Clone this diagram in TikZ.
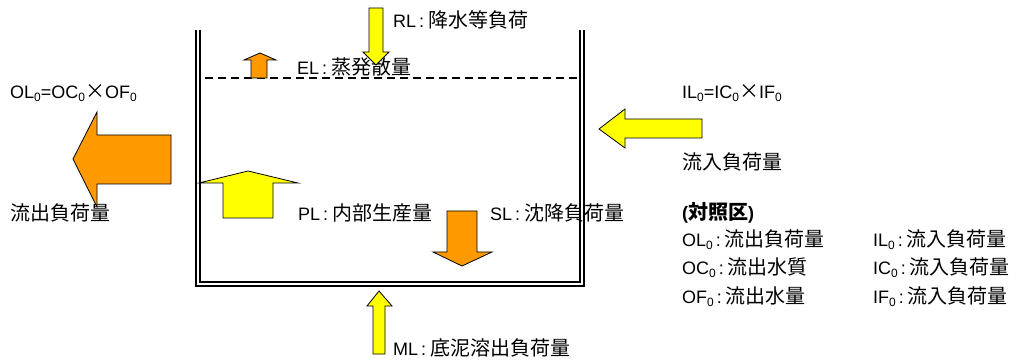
\documentclass[tikz,border=0pt]{standalone}
\usepackage{fontspec}
\setmainfont{Liberation Sans}
\newfontfamily\jp{Noto Sans CJK JP}[Scale=1.11]
\newcommand\zs[1]{\raisebox{-0.35ex}{\fontsize{12}{12}\selectfont #1}}
\newcommand\cln{\hspace{3pt}:\hspace{4pt}}
\definecolor{yfill}{HTML}{FFFF00}
\definecolor{ofill}{HTML}{FF9900}
\begin{document}
\begin{tikzpicture}[x=1pt,y=-1pt,
  lab/.style={anchor=west, inner sep=0pt, font=\fontsize{18}{20}\selectfont},
  wall/.style={line width=1.6pt},
  yarrow/.style={draw=black, line width=0.8pt, fill=yfill, line join=miter},
  oarrow/.style={draw=black, line width=0.8pt, fill=ofill, line join=miter}]
\useasboundingbox (0,0) rectangle (1019,363);
% labels
\node[lab] (rl) at (393,20) {RL\cln{\jp 降水等負荷}};
\node[lab] (el) at (297,67) {EL\cln{\jp 蒸発散量}};
\node[lab] (olf) at (10,93) {OL\zs{0}=OC\zs{0}{\jp ×}OF\zs{0}};
\node[lab] (olt) at (10,213) {{\jp 流出負荷量}};
\node[lab] (pl) at (298,213) {PL\cln{\jp 内部生産量}};
\node[lab] (sl) at (490,213) {SL\cln{\jp 沈降負荷量}};
\node[lab] (ml) at (393,348) {ML\cln{\jp 底泥溶出負荷量}};
\node[lab] (ilf) at (682,93) {IL\zs{0}=IC\zs{0}{\jp ×}IF\zs{0}};
\node[lab] (ilt) at (682,162) {{\jp 流入負荷量}};
\node[lab] (hd) at (682,213) {\bfseries ({\jp 対照区})};
\node[lab] (l1) at (682,240) {OL\zs{0}\cln{\jp 流出負荷量}};
\node[lab] (l2) at (682,268) {OC\zs{0}\cln{\jp 流出水質}};
\node[lab] (l3) at (682,297) {OF\zs{0}\cln{\jp 流出水量}};
\node[lab] (r1) at (873,240) {IL\zs{0}\cln{\jp 流入負荷量}};
\node[lab] (r2) at (873,268) {IC\zs{0}\cln{\jp 流入負荷量}};
\node[lab] (r3) at (873,297) {IF\zs{0}\cln{\jp 流入負荷量}};
% tank
\draw[wall] (196,30) -- (196,286) -- (584,286) -- (584,30);
\draw[wall] (200,30) -- (200,282) -- (580,282) -- (580,30);
% water surface
\draw[line width=1.4pt, dash pattern=on 8pt off 5pt] (205,78) -- (578,78);
% RL arrow (down)
\draw[yarrow] (369,8) -- (383,8) -- (383,52) -- (389,52) -- (376,65) -- (363,52) -- (369,52) -- cycle;
% EL arrow (up)
\draw[oarrow] (251,78) -- (267,78) -- (267,60) -- (276,60) -- (260,53) -- (244,60) -- (251,60) -- cycle;
% OL arrow (left)
\draw[oarrow] (171,135) -- (97,135) -- (97,112) -- (73,159) -- (97,207) -- (97,184) -- (171,184) -- cycle;
% PL arrow (up)
\draw[yarrow] (223,218) -- (273,218) -- (273,183) -- (298,183) -- (248,171) -- (199,183) -- (223,183) -- cycle;
% SL arrow (down)
\draw[oarrow] (447,211) -- (477,211) -- (477,252) -- (492,252) -- (462,266) -- (433,252) -- (447,252) -- cycle;
% ML arrow (up)
\draw[yarrow] (373,354) -- (385,354) -- (385,306) -- (392,306) -- (379,291) -- (367,306) -- (373,306) -- cycle;
% IL arrow (left)
\draw[yarrow] (702,119) -- (625,119) -- (625,109) -- (599,129) -- (625,148) -- (625,138) -- (702,138) -- cycle;
\end{tikzpicture}
\end{document}
